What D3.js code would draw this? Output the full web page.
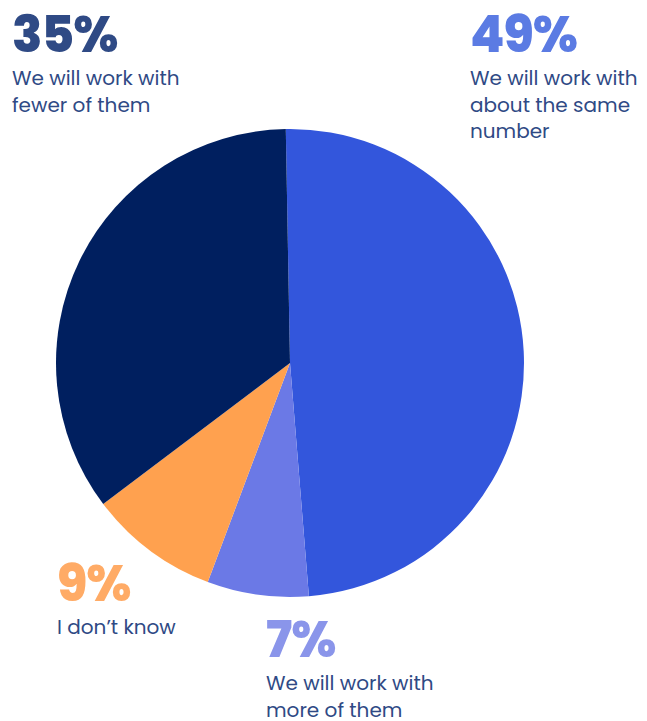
<!DOCTYPE html>
<html>
<head>
<meta charset="utf-8">
<script src="https://cdn.jsdelivr.net/npm/d3@7"></script>
<style>
  html, body { margin: 0; padding: 0; background: #fff; }
  svg { display: block; }
  .pct { font-family: Poppins, Inter, "Noto Sans", sans-serif; font-weight: 800; }
  .desc { font-family: Poppins, Inter, "Noto Sans", sans-serif; font-weight: 400; fill: #2f4a85; }
</style>
</head>
<body>
<svg id="chart" width="647" height="721"></svg>
<script>
// Survey answers, in clockwise order starting at 12 o'clock
const categories = [
  "We will work with about the same number",
  "We will work with more of them",
  "I don\u2019t know",
  "We will work with fewer of them"
];
const values = [49, 7, 9, 35];
const sliceColors = ["#3356dc", "#6b79e6", "#ffa14f", "#001f5f"];
const labelColors = ["#5b7be3", "#8a95ea", "#ffab66", "#2f4a85"];
const labelLines = [
  ["We will work with", "about the same", "number"],
  ["We will work with", "more of them"],
  ["I don\u2019t know"],
  ["We will work with", "fewer of them"]
];

const width = 647, height = 721;
const cx = 290, cy = 363, radius = 234;
const startAngle = -0.018;

const svg = d3.select("#chart");

const pie = d3.pie()
  .value(d => d)
  .sort(null)
  .startAngle(startAngle)
  .endAngle(startAngle + 2 * Math.PI);

const arc = d3.arc().innerRadius(0).outerRadius(radius);

const arcs = pie(values);

svg.append("g")
  .attr("transform", `translate(${cx},${cy})`)
  .selectAll("path")
  .data(arcs)
  .join("path")
  .attr("d", arc)
  .attr("fill", (d, i) => sliceColors[i]);

// Label anchor points (left edge, baseline of the percentage)
const labelPos = [
  { x: 470, y: 52 },
  { x: 266, y: 657 },
  { x: 57, y: 601 },
  { x: 12, y: 52 }
];

const labels = svg.append("g")
  .selectAll("g")
  .data(arcs)
  .join("g")
  .attr("transform", (d, i) => `translate(${labelPos[i].x},${labelPos[i].y})`);

labels.append("text")
  .attr("class", "pct")
  .attr("font-size", 50)
  .attr("letter-spacing", -1)
  .attr("fill", (d, i) => labelColors[i])
  .text(d => `${d.data}%`);

labels.each(function(d, i) {
  const t = d3.select(this).append("text")
    .attr("class", "desc")
    .attr("font-size", 20);
  labelLines[i].forEach((line, j) => {
    t.append("tspan")
      .attr("x", 0)
      .attr("y", 33 + j * 26.5)
      .text(line);
  });
});
</script>
</body>
</html>
